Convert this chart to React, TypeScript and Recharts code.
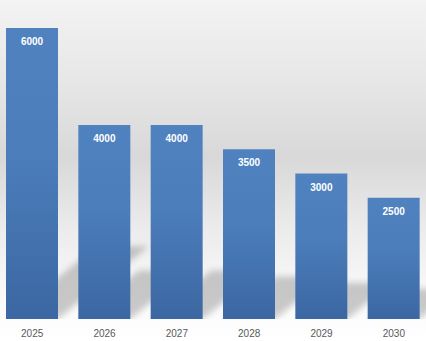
import React from 'react';
import { BarChart, Bar, XAxis, YAxis, LabelList } from 'recharts';

const years = ['2025', '2026', '2027', '2028', '2029', '2030'];
const values = [6000, 4000, 4000, 3500, 3000, 2500];
const data = years.map((year, i) => ({ year, value: values[i], shadow: values[i] }));

const ShadowShape = (props: any) => {
  const { x, y, width, height } = props;
  if (!height) return null;
  const base = y + height;
  const h = height * 0.25;
  const s = h / 0.8;
  const pts = `${x},${base} ${x + width},${base} ${x + width + s},${base - h} ${x + s},${base - h}`;
  return (
    <g clipPath="url(#plotClip)">
      <polygon points={pts} fill="#000" fillOpacity={0.2} filter="url(#shadowBlur)" />
    </g>
  );
};

export default function App() {
  return (
    <div
      style={{
        position: 'absolute',
        left: 0,
        top: 0,
        width: 426,
        height: 341,
        overflow: 'hidden',
        background:
          'linear-gradient(to bottom, #f3f3f3 0%, #e6e6e6 25%, #d8d8d8 46%, #ececec 68%, #f8f8f8 85%, #ffffff 100%)',
      }}
    >
      <div style={{ marginLeft: -4 }}>
        <BarChart
          width={434}
          height={341}
          data={data}
          margin={{ top: 28, right: 0, left: 0, bottom: 0 }}
          barSize={52}
          barGap={-52}
        >
          <defs>
            <linearGradient id="barGrad" x1="0" y1="0" x2="0" y2="1">
              <stop offset="0%" stopColor="#5082bf" />
              <stop offset="45%" stopColor="#4b7dba" />
              <stop offset="100%" stopColor="#3b67a2" />
            </linearGradient>
            <filter id="shadowBlur" x="-50%" y="-50%" width="200%" height="200%">
              <feGaussianBlur stdDeviation="3" />
            </filter>
            <clipPath id="plotClip">
              <rect x={-100} y={0} width={700} height={319} />
            </clipPath>
          </defs>
          <XAxis
            dataKey="year"
            axisLine={false}
            tickLine={false}
            height={22}
            tickMargin={5}
            tick={{ fontSize: 10, fill: '#595959', fontFamily: 'Liberation Sans, Arial, sans-serif' }}
            interval={0}
          />
          <YAxis hide domain={[0, 6000]} />
          <Bar dataKey="shadow" shape={<ShadowShape />} isAnimationActive={false} />
          <Bar dataKey="value" fill="url(#barGrad)" isAnimationActive={false}>
            <LabelList
              dataKey="value"
              position="insideTop"
              offset={10}
              fill="#ffffff"
              fontSize={10}
              fontWeight="bold"
              fontFamily="Liberation Sans, Arial, sans-serif"
            />
          </Bar>
        </BarChart>
      </div>
    </div>
  );
}
